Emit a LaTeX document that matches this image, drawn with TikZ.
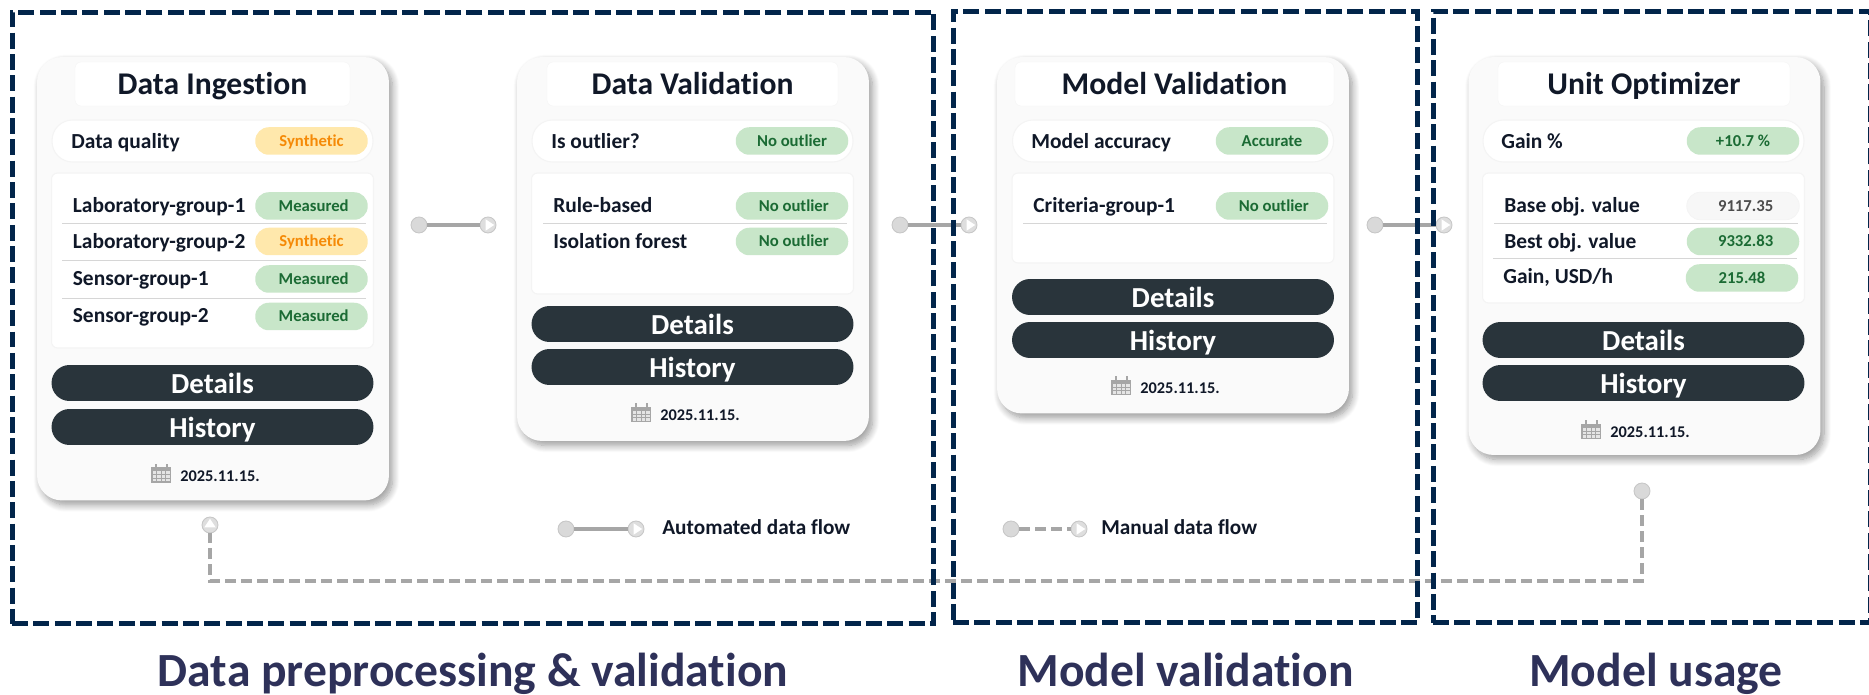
\documentclass[tikz,border=0pt]{standalone}
\usepackage{fontspec}
\setmainfont{Carlito}[Ligatures=CommonOff]
\usetikzlibrary{shadows.blur}

\definecolor{framenavy}{HTML}{02254A}
\definecolor{capnavy}{HTML}{2E3159}
\definecolor{inkdark}{HTML}{101828}
\definecolor{btndark}{HTML}{29343B}
\definecolor{flowgrey}{HTML}{A6A6A6}
\definecolor{dotgrey}{HTML}{D9D9D9}
\definecolor{cardgrey}{HTML}{FAFAFA}
\definecolor{edgegrey}{HTML}{F4F4F4}
\definecolor{rulegrey}{HTML}{D6D6D6}
\definecolor{okfill}{HTML}{C8E6C9}
\definecolor{oktext}{HTML}{1B6B34}
\definecolor{warnfill}{HTML}{FFE8AC}
\definecolor{warntext}{HTML}{F58A07}

\tikzset{
  groupbox/.style={draw=framenavy,line width=0.1cm,outer sep=0pt,dash pattern=on 0.32cm off 0.107cm},
  cardbox/.style={fill=cardgrey,rounded corners=0.5cm,minimum width=7.04cm,
    blur shadow={shadow xshift=0.07cm,shadow yshift=-0.09cm,shadow blur steps=10,shadow blur radius=0.14cm,shadow opacity=40}},
  titlebox/.style={fill=white,draw=edgegrey,line width=0.2pt,rounded corners=0.12cm,minimum height=0.88cm,
    text height=11.6pt,text depth=0pt,text=inkdark,inner sep=0pt,font=\fontsize{18}{20}\bfseries\selectfont},
  pillbox/.style={fill=white,draw=edgegrey,line width=0.6pt,rounded corners=0.41cm,minimum width=6.42cm,minimum height=0.84cm},
  panelbox/.style={fill=white,draw=edgegrey,line width=0.6pt,rounded corners=0.12cm,minimum width=6.44cm},
  badge/.style={rounded corners=0.27cm,minimum width=2.25cm,minimum height=0.55cm,inner sep=0pt,
    text height=5.9pt,text depth=0pt,font=\fontsize{9.5}{11}\bfseries\selectfont},
  okbadge/.style={badge,fill=okfill,text=oktext},
  warnbadge/.style={badge,fill=warnfill,text=warntext},
  plainbadge/.style={badge,fill=black!3,draw=edgegrey,text=black!70},
  rowlabel/.style={anchor=base west,inner sep=0pt,text=inkdark,font=\fontsize{12.2}{14}\bfseries\selectfont},
  btn/.style={fill=btndark,text=white,rounded corners=0.36cm,minimum width=6.44cm,minimum height=0.72cm,inner sep=0pt,
    text height=11.6pt,text depth=0pt,font=\fontsize{16.5}{18}\bfseries\selectfont},
  datetext/.style={anchor=base west,inner sep=0pt,text=inkdark,font=\fontsize{9.3}{12}\bfseries\selectfont},
  legendtext/.style={anchor=base west,inner sep=0pt,text=inkdark,font=\fontsize{12.1}{14}\bfseries\selectfont},
  captext/.style={anchor=base,inner sep=0pt,text=capnavy,font=\fontsize{27.1}{30}\bfseries\selectfont},
  rowrule/.style={color=rulegrey,line width=0.02cm},
  flowstart/.style={circle,fill=dotgrey,draw=black!22,line width=0.5pt,minimum size=0.32cm,inner sep=0pt},
  flowend/.style={flowstart,fill=black!13,path picture={
    \fill[white] (-0.05cm,-0.115cm) -- (0.125cm,0cm) -- (-0.05cm,0.115cm) -- cycle;}},
  autoflow/.style={color=flowgrey,line width=0.07cm},
  manualflow/.style={color=flowgrey,line width=0.08cm,dash pattern=on 0.22cm off 0.10cm},
  calicon/.pic={
    \fill[flowgrey] (-10,-6) rectangle (10,9.5);
    \fill[flowgrey] (-6.5,-9.5) rectangle (-4.5,-5);
    \fill[flowgrey] (4.5,-9.5) rectangle (6.5,-5);
    \fill[black!10] (-8.5,-2) rectangle (8.5,8);
    \draw[flowgrey,line width=0.4pt] (-4.3,-2) -- (-4.3,8) (0,-2) -- (0,8) (4.3,-2) -- (4.3,8);
    \draw[flowgrey,line width=0.4pt] (-8.5,1.3) -- (8.5,1.3) (-8.5,4.6) -- (8.5,4.6);
  }
}

\begin{document}
\begin{tikzpicture}[x=0.02cm,y=-0.02cm]
\useasboundingbox (0,0) rectangle (1869,695);
%\draw[black!10,step=100] (0,0) grid (1869,695);

\node(card1) at (213,278.75) [cardbox,minimum height=8.87cm] {};
\node(card2) at (693,249) [cardbox,minimum height=7.68cm] {};
\node(card3) at (1173,235.25) [cardbox,minimum height=7.13cm] {};
\node(card4) at (1644.5,256) [cardbox,minimum height=7.96cm] {};

\node(title1) at (212.5,84) [titlebox,minimum width=5.5cm] {Data Ingestion};
\node(pill1) at (212.5,141) [pillbox] {};
\node(panel1) at (212.5,260.5) [panelbox,minimum height=3.5cm] {};
\node(qual) at (71,149) [rowlabel] {Data quality};
\node(qualb) at (311.5,141) [warnbadge] {Synthetic};
\node(lab1) at (72.5,213) [rowlabel] {Laboratory-group-1};
\node(lab1b) at (311.5,206) [okbadge] {\hspace{2.5pt}Measured};
\draw[rowrule] (62,224) -- (366,224);
\node(lab2) at (72.5,249) [rowlabel] {Laboratory-group-2};
\node(lab2b) at (311.5,241.5) [warnbadge] {Synthetic};
\draw[rowrule] (62,260.5) -- (366,260.5);
\node(sen1) at (72.5,286) [rowlabel] {Sensor-group-1};
\node(sen1b) at (311.5,279) [okbadge] {\hspace{2.5pt}Measured};
\draw[rowrule] (62,299) -- (366,299);
\node(sen2) at (72.5,323) [rowlabel] {Sensor-group-2};
\node(sen2b) at (311.5,316.5) [okbadge] {\hspace{2.5pt}Measured};
\node(det1) at (212.5,383) [btn] {Details};
\node(his1) at (212.5,427) [btn] {History};
\pic at (161,473.5) {calicon};
\node(date1) at (180,481.6) [datetext] {2025.11.15.};

\node(title2) at (692.5,84) [titlebox,minimum width=5.82cm] {Data Validation};
\node(pill2) at (692.5,141) [pillbox] {};
\node(panel2) at (692.5,233.5) [panelbox,minimum height=2.42cm] {};
\node(outl) at (551,149) [rowlabel] {Is outlier?};
\node(outlb) at (792,141) [okbadge] {No outlier};
\node(rule) at (553,213) [rowlabel] {Rule-based};
\node(ruleb) at (792,206) [okbadge] {\hspace{2pt}No outlier};
\draw[rowrule] (543,224) -- (847,224);
\node(iso) at (553,249) [rowlabel] {Isolation forest};
\node(isob) at (792,241.5) [okbadge] {\hspace{2pt}No outlier};
\node(det2) at (692.5,324) [btn] {Details};
\node(his2) at (692.5,367) [btn] {History};
\pic at (641,413) {calicon};
\node(date2) at (660,421) [datetext] {2025.11.15.};

\node(title3) at (1174.5,84) [titlebox,minimum width=6.38cm] {Model Validation};
\node(pill3) at (1173,141) [pillbox] {};
\node(panel3) at (1173,218) [panelbox,minimum height=1.8cm] {};
\node(acc) at (1031,149) [rowlabel] {Model accuracy};
\node(accb) at (1272,141) [okbadge] {Accurate};
\node(crit) at (1033,213) [rowlabel] {Criteria-group-1};
\node(critb) at (1272,206) [okbadge] {\hspace{2pt}No outlier};
\draw[rowrule] (1023,224) -- (1327,224);
\node(det3) at (1173,297) [btn] {Details};
\node(his3) at (1173,340) [btn] {History};
\pic at (1121,386) {calicon};
\node(date3) at (1140,394) [datetext] {2025.11.15.};

\node(title4) at (1644,84) [titlebox,minimum width=5.84cm] {Unit Optimizer};
\node(pill4) at (1643.5,141) [pillbox] {};
\node(panel4) at (1643.5,238) [panelbox,minimum height=2.6cm] {};
\node(gainp) at (1501,149) [rowlabel] {Gain \%};
\node(gainpb) at (1743,141) [okbadge] {+10.7 \%\hspace{8pt}};
\node(base) at (1504,213) [rowlabel] {Base obj. value};
\node(baseb) at (1743,206) [plainbadge] {\hspace{3pt}9117.35};
\draw[rowrule] (1494,224) -- (1798,224);
\node(best) at (1504,249) [rowlabel] {Best obj. value};
\node(bestb) at (1743,241.5) [okbadge] {\hspace{3pt}9332.83};
\draw[rowrule] (1493,259) -- (1797,259);
\node(gain) at (1503,284) [rowlabel] {Gain, USD/h};
\node(gainb) at (1742,278) [okbadge] {215.48};
\node(det4) at (1643.5,340) [btn] {Details};
\node(his4) at (1643.5,383) [btn] {History};
\pic at (1591,429.6) {calicon};
\node(date4) at (1610,437.6) [datetext] {2025.11.15.};

\node(a1) at (419,225) [flowstart] {};
\node(a2) at (488,225) [flowend] {};
\draw[autoflow] (a1) -- (a2);
\node(b1) at (900,225) [flowstart] {};
\node(b2) at (969,225) [flowend] {};
\draw[autoflow] (b1) -- (b2);
\node(c1) at (1375,225) [flowstart] {};
\node(c2) at (1444,225) [flowend] {};
\draw[autoflow] (c1) -- (c2);

\node(back1) at (1642,491) [flowstart] {};
\node(back2) at (210,525) [flowend,rotate=90] {};
\coordinate (turn1) at (1642,581);
\coordinate (turn2) at (210,581);
\draw[manualflow] (back1) -- (turn1) -- (turn2) -- (back2);

\node(leg1) at (566,529) [flowstart] {};
\node(leg2) at (636,529) [flowend] {};
\draw[autoflow] (leg1) -- (leg2);
\node(legauto) at (662,534) [legendtext] {Automated data flow};
\node(leg3) at (1011,529) [flowstart] {};
\node(leg4) at (1079,529) [flowend] {};
\draw[manualflow] (leg3) -- (leg4);
\node(legman) at (1101,534) [legendtext] {Manual data flow};

\node(group1) at (473,318) [groupbox,minimum width=18.44cm,minimum height=12.24cm] {};
\node(group2) at (1185.5,317) [groupbox,minimum width=9.3cm,minimum height=12.24cm] {};
\node(group3) at (1652,317) [groupbox,minimum width=8.76cm,minimum height=12.24cm] {};

\node(cap1) at (473,686) [captext] {Data preprocessing \& validation};
\node(cap2) at (1185.5,686) [captext] {Model validation};
\node(cap3) at (1656,686) [captext] {Model usage};

\end{tikzpicture}
\end{document}
